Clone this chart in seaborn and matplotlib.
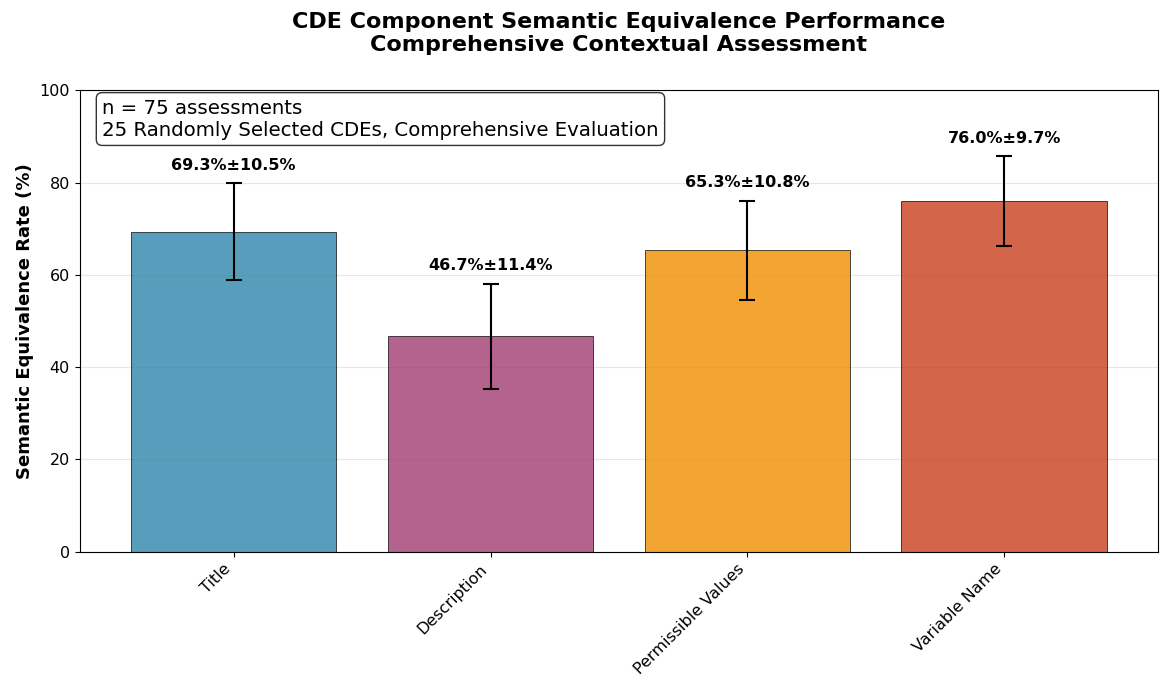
import numpy as np
import pandas as pd
import matplotlib
matplotlib.use('Agg')
import matplotlib.pyplot as plt
import seaborn as sns

# ── Data ──
components = ['Title', 'Description', 'Permissible Values', 'Variable Name']
rates = [69.3, 46.7, 65.3, 76.0]
errors = [10.5, 11.4, 10.8, 9.7]
colors = ['#2E86AB', '#A23B72', '#F18F01', '#C73E1D']

df = pd.DataFrame({'component': components, 'rate': rates, 'err': errors})

sns.set_style('white')
plt.rcParams['font.family'] = ['DejaVu Sans']
plt.rcParams['text.color'] = 'black'
plt.rcParams['axes.labelcolor'] = 'black'
plt.rcParams['xtick.color'] = 'black'
plt.rcParams['ytick.color'] = 'black'

fig, ax = plt.subplots(figsize=(11.7, 6.94), dpi=100)

sns.barplot(data=df, x='component', y='rate', hue='component',
            palette=colors, legend=False, alpha=0.8, saturation=1,
            edgecolor='black', linewidth=0.6, width=0.8, ax=ax)

ax.errorbar(np.arange(len(components)), df['rate'], yerr=df['err'],
            fmt='none', ecolor='black', elinewidth=1.5, capsize=6, capthick=1.5)

# ── Value labels ──
for i, (r, e) in enumerate(zip(rates, errors)):
    ax.text(i, r + e + 2.2, f'{r:.1f}%±{e:.1f}%', ha='center', va='bottom',
            fontsize=11.5, fontweight='bold')

ax.set_ylim(0, 100)
ax.set_xlim(-0.6, 3.6)
ax.set_xlabel('')
ax.set_ylabel('Semantic Equivalence Rate (%)', fontsize=13, fontweight='bold')
ax.set_title('CDE Component Semantic Equivalence Performance\nComprehensive Contextual Assessment',
             fontsize=16, fontweight='bold', pad=28)
ax.set_xticks(range(len(components)))
ax.set_xticklabels(components, rotation=45, ha='right', fontsize=11.5)
ax.tick_params(axis='y', labelsize=11.5, left=True)
ax.tick_params(axis='x', bottom=True)
ax.yaxis.grid(True, color='#b0b0b0', alpha=0.3)
ax.set_axisbelow(True)
for s in ax.spines.values():
    s.set_color('black')

ax.text(0.021, 0.982, 'n = 75 assessments\n25 Randomly Selected CDEs, Comprehensive Evaluation',
        transform=ax.transAxes, ha='left', va='top', fontsize=14.2,
        bbox=dict(boxstyle='round,pad=0.3', facecolor='white', edgecolor='black', alpha=0.8))

plt.subplots_adjust(left=0.068, right=0.99, top=0.87, bottom=0.205)
plt.savefig('out.png', dpi=100)
